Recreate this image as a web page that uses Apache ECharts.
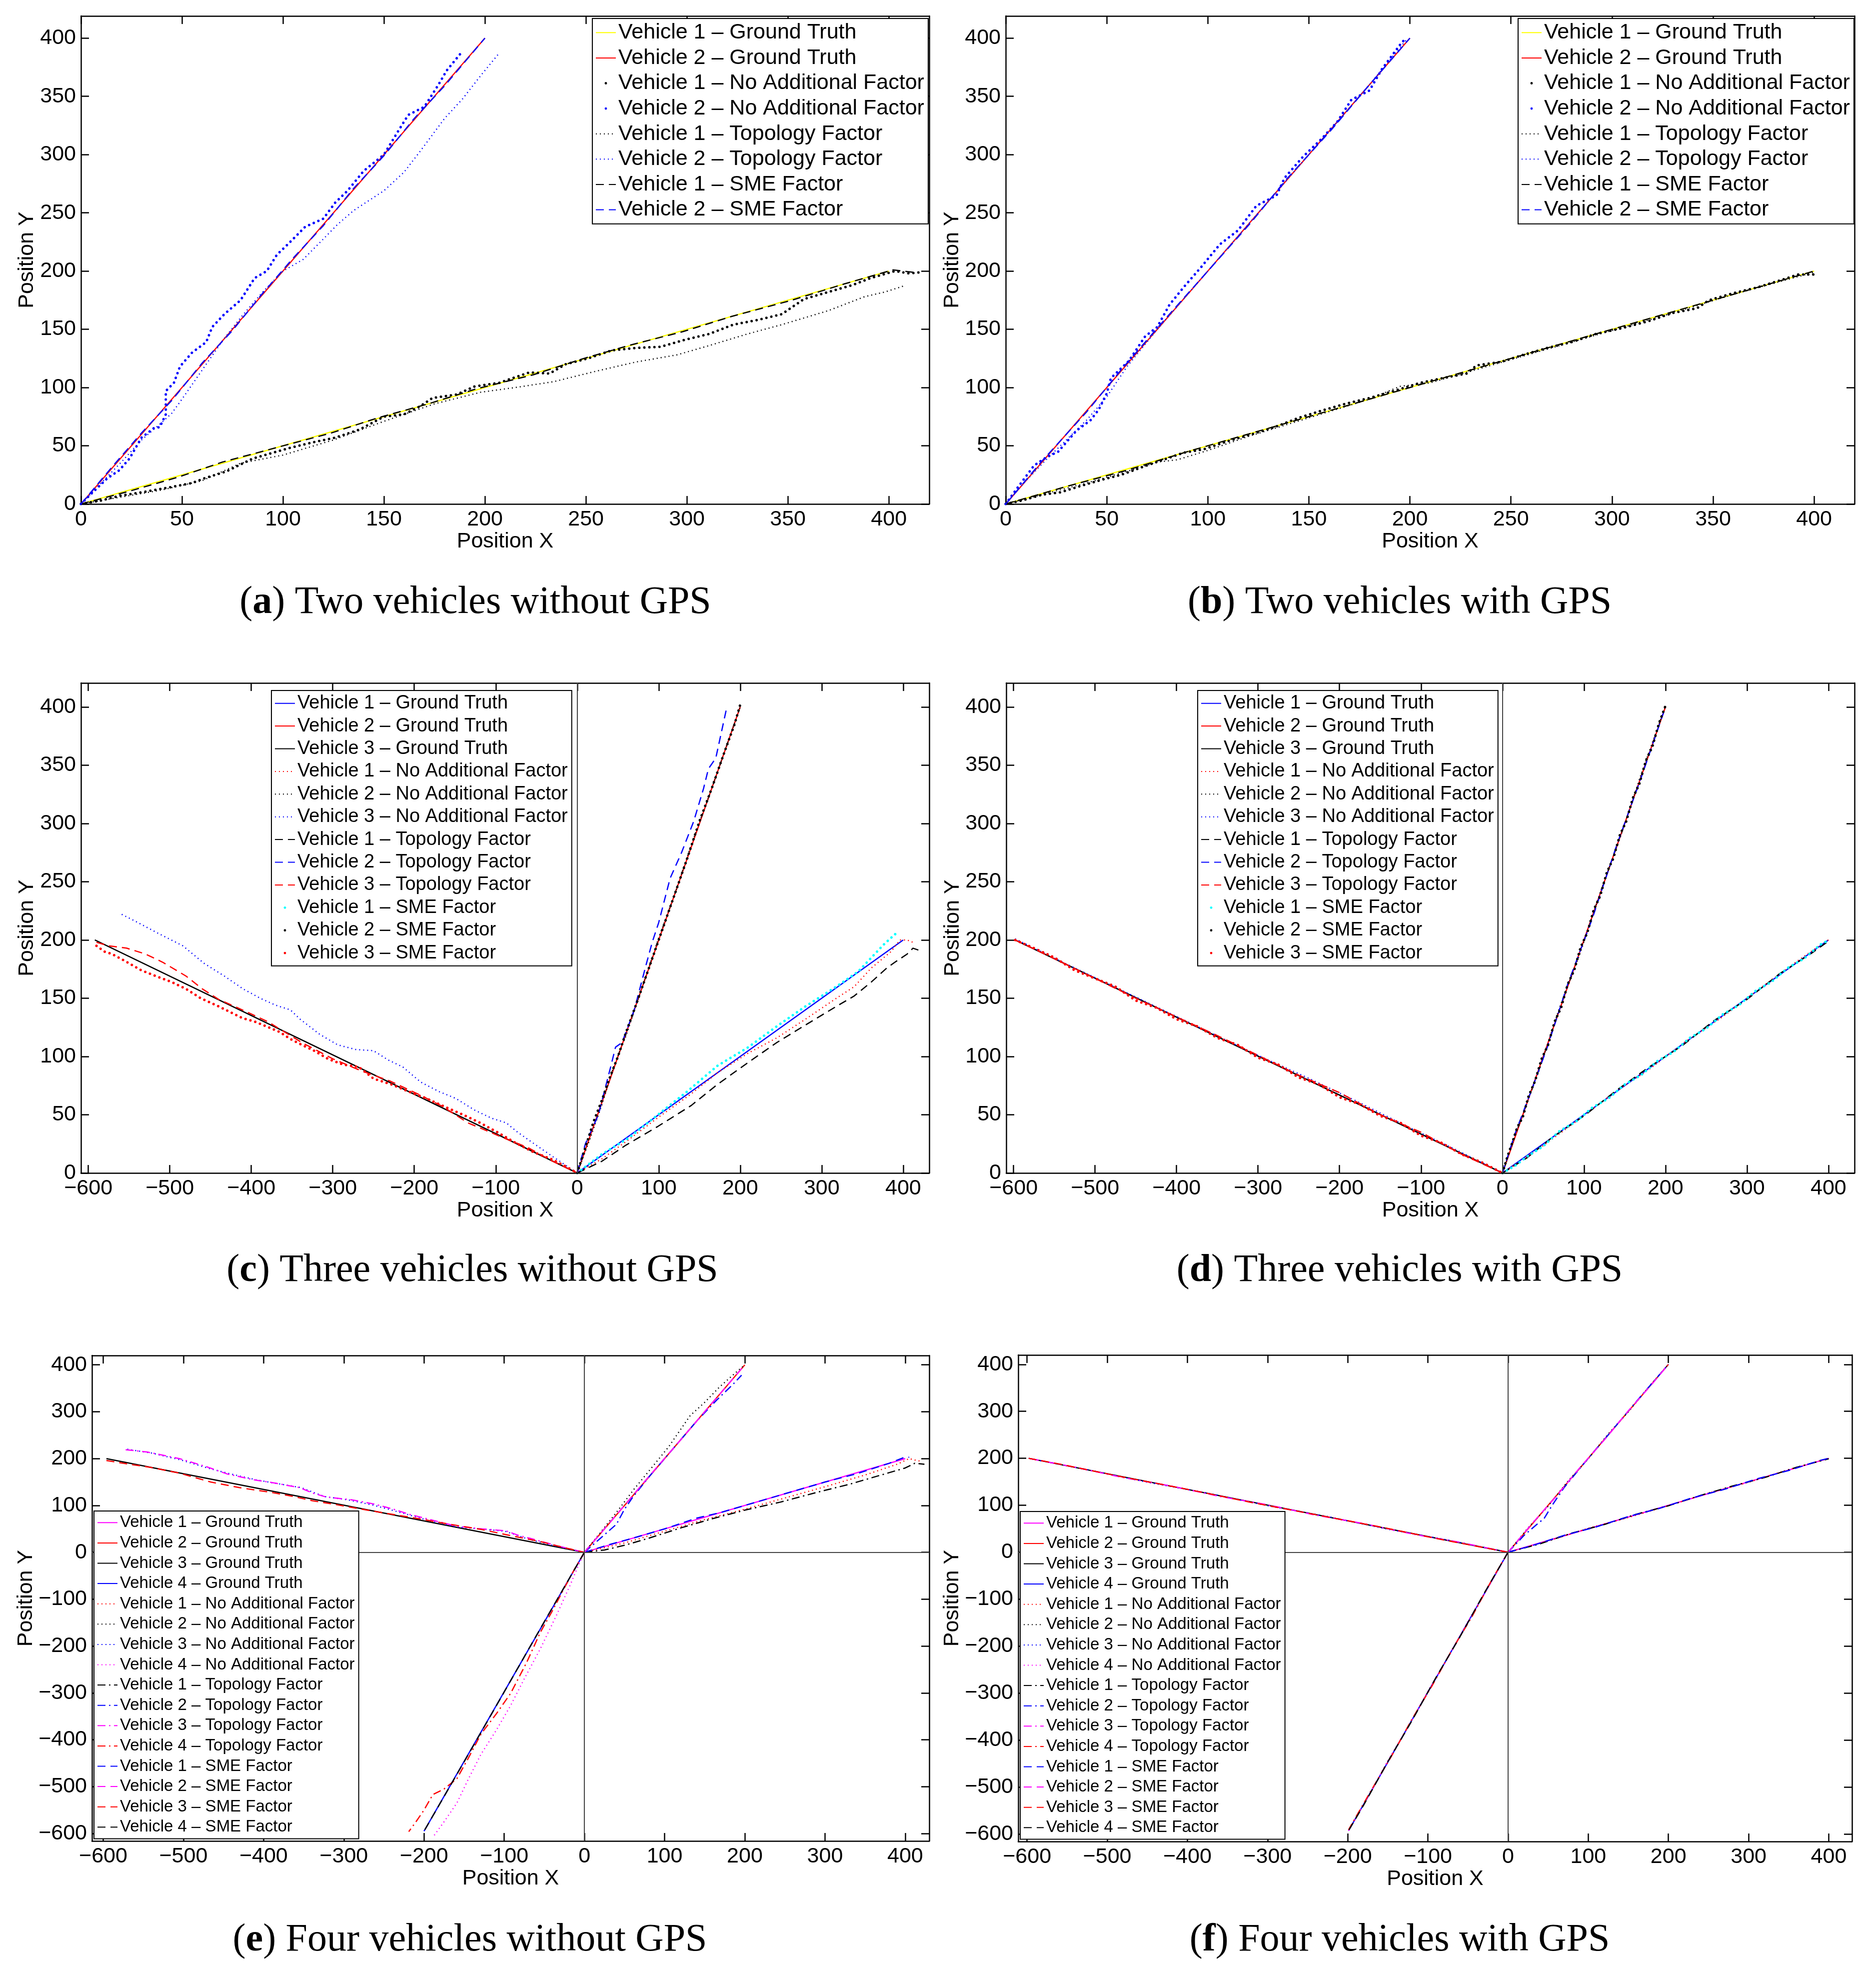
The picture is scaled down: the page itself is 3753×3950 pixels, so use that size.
<!DOCTYPE html>
<html><head><meta charset="utf-8">
<script src="https://cdn.jsdelivr.net/npm/echarts@6/dist/echarts.min.js"></script>
<style>html,body{margin:0;padding:0;background:#fff}#c{width:3753px;height:3950px}</style>
</head><body><div id="c"></div>
<script>
// ---------------- tick labels ----------------
const TICKS_0_400 = [0,50,100,150,200,250,300,350,400];
const TICKS_X_WIDE = [-600,-500,-400,-300,-200,-100,0,100,200,300,400];
const TICKS_Y_WIDE = [-600,-500,-400,-300,-200,-100,0,100,200,300,400];

// ---------------- panel (a): two vehicles without GPS ----------------
const A_V1_GT = [[0,0],[400,200]];
const A_V2_GT = [[0,0],[200,400]];
const A_V1_NOADD = [[0,0],[10,3],[19,7],[30,10],[43,14],[55,18],[61,22],[72,28],[85,39],[95,44],[103,48],[115,53],[126,57],[138,64],[150,75],[160,77],[168,84],[174,91],[186,94],[195,101],[207,104],[222,113],[232,112],[240,120],[251,125],[263,132],[275,134],[287,135],[299,141],[311,146],[323,154],[335,158],[347,163],[358,176],[370,182],[382,188],[391,194],[403,200],[410,198],[416,199]];
const A_V2_NOADD = [[0,0],[4,7],[7,12],[13,22],[19,29],[24,39],[30,57],[36,65],[39,66],[42,77],[42,97],[46,104],[49,118],[55,130],[62,139],[65,152],[71,163],[79,175],[86,194],[92,200],[97,214],[103,224],[111,238],[120,245],[126,259],[132,269],[140,286],[150,300],[157,320],[162,334],[170,341],[177,360],[181,372],[189,389]];
const A_V1_TOPO = [[0,0],[20,6],[40,12],[60,20],[79,35],[100,42],[125,55],[150,71],[175,86],[198,96],[215,100],[234,105],[255,114],[275,122],[295,128],[311,136],[330,146],[347,154],[370,166],[388,178],[398,182],[407,187]];
const A_V2_TOPO = [[0,0],[10,18],[20,36],[30,55],[40,70],[45,78],[50,90],[60,115],[70,140],[80,162],[90,182],[100,200],[110,210],[118,224],[127,240],[135,252],[150,269],[160,285],[168,303],[180,331],[189,348],[198,368],[207,387]];
const A_V1_SME = [[0,0],[24,11],[48,23],[70,36],[98,49],[124,61],[147,74],[172,86],[196,99],[224,111],[249,125],[271,136],[298,148],[322,161],[352,175],[378,189],[402,201],[412,199]];
const A_V2_SME = [[0,0],[15,31],[30,61],[45,89],[60,121],[75,149],[90,181],[105,211],[120,239],[135,271],[150,299],[165,331],[180,359],[200,400]];

// ---------------- panel (b): two vehicles with GPS ----------------
const B_V1_GT = [[0,0],[400,200]];
const B_V2_GT = [[0,0],[200,400]];
const B_V1_NOADD = [[0,0],[8,3],[18,8],[27,10],[38,16],[48,21],[57,25],[68,32],[78,38],[88,44],[98,47],[110,54],[122,60],[133,66],[145,74],[156,80],[168,86],[180,91],[192,97],[205,104],[216,108],[228,112],[233,119],[245,122],[256,128],[268,134],[280,139],[292,146],[305,151],[318,157],[330,164],[342,168],[348,175],[360,181],[372,186],[385,193],[392,197],[401,197]];
const B_V2_NOADD = [[0,0],[5,12],[14,33],[20,40],[26,45],[35,63],[42,72],[46,81],[50,95],[52,108],[61,123],[69,144],[75,152],[81,171],[88,186],[97,204],[106,223],[115,235],[124,256],[134,265],[138,280],[147,298],[156,313],[164,328],[171,347],[180,355],[186,373],[195,394],[198,400]];
const B_V1_TOPO = [[0,0],[20,9],[40,18],[60,28],[75,36],[85,38],[100,46],[120,58],[150,74],[180,90],[195,101],[210,104],[240,119],[270,134],[300,149],[330,164],[360,180],[400,199]];
const B_V2_TOPO = [[0,0],[10,20],[20,38],[30,55],[40,72],[50,92],[60,118],[75,150],[90,180],[105,210],[120,240],[135,270],[150,300],[165,330],[180,360],[198,398]];
const B_V1_SME = [[0,0],[30,15],[60,29],[90,45],[120,60],[150,75],[180,90],[210,105],[240,120],[270,135],[300,150],[330,165],[360,180],[400,200]];
const B_V2_SME = [[0,0],[18,37],[40,79],[58,117],[80,161],[99,198],[121,241],[139,279],[161,321],[179,358],[200,400]];

// ---------------- panel (c): three vehicles without GPS ----------------
const C_V1_GT = [[0,0],[400,200]];
const C_V2_GT = [[0,0],[200,400]];
const C_V3_GT = [[0,0],[-592,200]];
const C_V1_NOADD = [[0,0],[30,12],[60,27],[100,48],[140,68],[172,86],[210,103],[245,116],[280,132],[318,150],[340,160],[361,176],[385,190],[396,200],[405,200],[412,198]];
const C_V2_NOADD = [[0,0],[15,28],[30,58],[45,92],[60,118],[80,160],[100,202],[120,240],[140,282],[160,320],[180,360],[200,400]];
const C_V3_NOADD = [[-559,222],[-542,216],[-515,206],[-484,195],[-458,180],[-433,169],[-410,158],[-389,150],[-370,144],[-352,140],[-340,132],[-316,119],[-294,110],[-272,106],[-250,105],[-232,97],[-214,91],[-192,78],[-170,70],[-149,64],[-126,54],[-105,47],[-87,43],[-75,36],[-61,29],[-32,15],[0,0]];
const C_V1_TOPO = [[0,0],[30,10],[60,24],[99,40],[140,58],[172,76],[210,95],[245,112],[280,127],[318,143],[340,152],[361,164],[380,176],[390,181],[405,188],[412,193],[420,191]];
const C_V2_TOPO = [[0,0],[10,25],[26,50],[41,91],[47,108],[55,112],[70,140],[85,180],[92,198],[100,215],[114,253],[128,275],[143,302],[155,330],[161,347],[170,356],[183,398]];
const C_V3_TOPO = [[-590,198],[-575,195],[-553,193],[-530,188],[-509,181],[-480,169],[-460,158],[-440,149],[-411,140],[-380,130],[-338,112],[-300,98],[-266,88],[-230,79],[-193,67],[-165,57],[-134,43],[-110,36],[-90,30],[-61,22],[-30,10],[0,0]];
const C_V1_SME = [[0,0],[30,16],[63,30],[99,50],[135,70],[172,92],[210,108],[245,126],[280,143],[318,160],[345,173],[376,196],[390,205],[396,204]];
const C_V2_SME = [[0,0],[10,22],[20,44],[30,62],[40,82],[50,100],[60,121],[75,150],[90,180],[105,210],[120,240],[135,270],[150,302],[165,330],[180,360],[193,385],[200,402]];
const C_V3_SME = [[-590,195],[-580,190],[-571,188],[-555,182],[-535,174],[-517,169],[-498,164],[-480,158],[-462,150],[-440,143],[-411,133],[-396,130],[-382,126],[-365,121],[-352,115],[-338,110],[-323,105],[-306,98],[-287,93],[-268,91],[-250,81],[-228,76],[-207,70],[-185,64],[-163,57],[-140,50],[-119,43],[-98,35],[-76,26],[-54,18],[-32,12],[-15,6],[0,0]];

// ---------------- panel (d): three vehicles with GPS ----------------
const D_V1_GT = [[0,0],[400,200]];
const D_V2_GT = [[0,0],[200,400]];
const D_V3_GT = [[0,0],[-598,200]];
const D_V1_NOADD = [[0,0],[45,21],[90,44],[135,68],[180,89],[225,113],[270,134],[315,158],[360,181],[395,198],[400,200]];
const D_V2_NOADD = [[0,0],[20,41],[45,88],[70,142],[95,188],[120,241],[145,289],[170,342],[200,401]];
const D_V3_NOADD = [[0,0],[-60,21],[-120,41],[-180,62],[-240,82],[-300,101],[-360,121],[-420,141],[-480,161],[-540,181],[-598,201]];
const D_V1_TOPO = [[0,0],[30,13],[60,30],[100,49],[140,71],[180,91],[220,109],[260,131],[300,149],[340,171],[380,189],[400,199]];
const D_V2_TOPO = [[0,0],[15,33],[35,70],[55,108],[80,162],[110,218],[140,281],[170,339],[200,400]];
const D_V3_TOPO = [[0,0],[-50,16],[-100,35],[-150,50],[-200,69],[-250,84],[-300,101],[-350,118],[-400,134],[-450,150],[-500,167],[-550,184],[-598,200]];
const D_V1_SME = [[0,0],[15,6],[30,14],[50,23],[70,36],[90,44],[110,56],[130,64],[150,76],[170,84],[190,96],[210,104],[230,116],[250,124],[270,136],[290,144],[310,156],[330,164],[350,176],[370,184],[390,196],[398,199]];
const D_V2_SME = [[0,0],[6,14],[12,26],[18,39],[25,48],[32,66],[40,79],[48,98],[56,110],[64,130],[72,142],[80,162],[88,174],[96,194],[104,206],[112,226],[120,238],[128,258],[136,270],[144,290],[152,302],[160,322],[168,334],[176,354],[184,366],[192,386],[200,401]];
const D_V3_SME = [[-598,200],[-575,193],[-550,185],[-525,174],[-500,167],[-475,160],[-450,148],[-425,142],[-400,132],[-375,126],[-350,116],[-325,110],[-300,99],[-275,93],[-250,82],[-225,76],[-200,65],[-175,59],[-150,49],[-125,43],[-100,32],[-75,26],[-50,16],[-25,9],[0,0]];

// ---------------- panel (e): four vehicles without GPS ----------------
const E_V1_GT = [[0,0],[400,200]];
const E_V2_GT = [[0,0],[200,400]];
const E_V3_GT = [[0,0],[-596,200]];
const E_V4_GT = [[0,0],[-200,-595]];
const E_V1_NOADD = [[0,0],[50,20],[100,45],[150,70],[200,92],[250,116],[300,140],[350,165],[390,188],[405,200],[412,197],[420,194]];
const E_V2_NOADD = [[0,0],[20,42],[43,92],[62,135],[86,185],[105,225],[132,292],[150,320],[168,352],[185,378],[200,400]];
const E_V3_NOADD = [[-570,220],[-540,212],[-503,197],[-470,180],[-443,168],[-410,155],[-391,149],[-370,143],[-353,138],[-338,128],[-324,119],[-295,112],[-264,101],[-240,90],[-219,80],[-190,66],[-159,54],[-130,50],[-99,45],[-85,37],[-70,28],[-35,13],[0,0]];
const E_V4_NOADD = [[0,0],[-8,-30],[-17,-67],[-35,-135],[-55,-206],[-75,-270],[-92,-327],[-110,-380],[-129,-431],[-145,-485],[-159,-535],[-175,-575],[-189,-608]];
const E_V1_TOPO = [[0,0],[25,5],[50,15],[80,30],[120,52],[160,72],[200,90],[244,107],[290,128],[330,145],[370,165],[400,180],[412,190],[424,188]];
const E_V2_TOPO = [[0,0],[20,30],[40,60],[50,92],[60,117],[80,160],[110,220],[140,280],[165,325],[185,358],[196,378]];
const E_V3_TOPO = [[-572,219],[-545,214],[-505,200],[-470,182],[-445,167],[-410,154],[-390,149],[-355,138],[-338,126],[-322,118],[-290,112],[-262,103],[-238,92],[-218,81],[-188,68],[-160,56],[-128,50],[-98,46],[-82,36],[-68,30],[-34,14],[0,0]];
const E_V4_TOPO = [[0,0],[-12,-35],[-25,-76],[-40,-125],[-55,-171],[-72,-235],[-92,-301],[-110,-345],[-129,-388],[-145,-440],[-159,-483],[-175,-505],[-189,-517],[-200,-550],[-210,-575],[-219,-596]];
const E_V1_SME = [[0,0],[30,16],[60,30],[100,50],[140,73],[170,85],[210,105],[260,130],[300,150],[340,168],[380,190],[398,202],[405,203]];
const E_V2_SME = [[0,0],[40,80],[80,161],[120,240],[160,320],[200,400]];
const E_V3_SME = [[-596,196],[-575,190],[-540,181],[-505,169],[-466,150],[-430,138],[-391,128],[-365,120],[-339,110],[-310,102],[-294,97],[-250,84],[-204,71],[-165,59],[-129,49],[-90,35],[-55,23],[-25,10],[0,0]];
const E_V4_SME = [[0,0],[-50,-148],[-100,-298],[-150,-447],[-200,-595]];

// ---------------- panel (f): four vehicles with GPS ----------------
const F_V1_GT = [[0,0],[400,200]];
const F_V2_GT = [[0,0],[200,400]];
const F_V3_GT = [[0,0],[-598,200]];
const F_V4_GT = [[0,0],[-199,-593]];
const F_V1_NOADD = [[0,0],[50,24],[100,51],[150,74],[200,99],[250,126],[300,149],[350,176],[400,200]];
const F_V2_NOADD = [[0,0],[25,52],[50,98],[75,152],[100,199],[125,252],[150,299],[175,351],[200,400]];
const F_V3_NOADD = [[0,0],[-75,26],[-150,49],[-225,76],[-300,99],[-375,126],[-450,149],[-525,176],[-598,200]];
const F_V4_NOADD = [[0,0],[-25,-76],[-50,-147],[-75,-225],[-100,-296],[-125,-373],[-150,-444],[-175,-522],[-199,-593]];
const F_V1_TOPO = [[0,0],[40,18],[80,41],[120,59],[160,81],[200,99],[240,121],[280,141],[320,159],[360,181],[400,199]];
const F_V2_TOPO = [[0,0],[20,36],[35,58],[45,72],[55,100],[70,138],[100,200],[130,260],[160,321],[200,400]];
const F_V3_TOPO = [[0,0],[-60,21],[-120,39],[-180,61],[-240,79],[-300,101],[-360,119],[-420,141],[-480,159],[-540,181],[-598,200]];
const F_V4_TOPO = [[0,0],[-20,-58],[-45,-137],[-70,-208],[-95,-285],[-120,-356],[-145,-433],[-170,-505],[-199,-591]];
const F_V1_SME = [[0,0],[30,14],[70,36],[110,54],[150,76],[190,94],[230,116],[270,134],[310,156],[350,174],[390,196],[400,200]];
const F_V2_SME = [[0,0],[30,61],[60,119],[90,181],[120,239],[150,301],[180,359],[200,400]];
const F_V3_SME = [[0,0],[-80,26],[-160,54],[-240,80],[-320,106],[-400,134],[-480,160],[-560,188],[-598,200]];
const F_V4_SME = [[0,0],[-30,-88],[-60,-180],[-90,-267],[-120,-359],[-150,-446],[-180,-538],[-199,-593]];

// ---------------- styles ----------------
const FONT = 'Liberation Sans, Arial, sans-serif';
const SERIF = 'Liberation Serif, Times New Roman, serif';
const Y='#ffff00', R='#ff0000', B='#0000ff', K='#000000', C='#00ffff', M='#ff00ff';
const LS = {
  solid:   {type:'solid', width:2.5},
  dot:     {type:[2,6], width:2.5},
  dash:    {type:[16,10], width:2.5},
  dashdot: {type:[16,7,3,7], width:2.5},
  marks:   {type:[0.1,10], width:5, cap:'round'}
};
const GT='Ground Truth', NA='No Additional Factor', TF='Topology Factor', SF='SME Factor';
const nm = (v, f) => 'Vehicle ' + v + ' \u2013 ' + f;

const panels = [
  {key:'a', grid:{left:162, top:32, width:1697, height:976}, xr:[0,420], yr:[0,419], xt:TICKS_0_400, yt:TICKS_0_400, yGap:86,
   legend:{left:1185, top:37, font:43, row:50.6},
   cap:{x:951, y:1206, t:'({b|a}) Two vehicles without GPS'}, zx:false, zy:false,
   s:[[nm(1,GT),A_V1_GT,Y,'solid'],[nm(2,GT),A_V2_GT,R,'solid'],[nm(1,NA),A_V1_NOADD,K,'marks'],[nm(2,NA),A_V2_NOADD,B,'marks'],
      [nm(1,TF),A_V1_TOPO,K,'dot'],[nm(2,TF),A_V2_TOPO,B,'dot'],[nm(1,SF),A_V1_SME,K,'dash'],[nm(2,SF),A_V2_SME,B,'dash']]},
  {key:'b', grid:{left:2012, top:32, width:1698, height:976}, xr:[0,420], yr:[0,419], xt:TICKS_0_400, yt:TICKS_0_400, yGap:84,
   legend:{left:3037, top:37, font:43, row:50.6},
   cap:{x:2800, y:1206, t:'({b|b}) Two vehicles with GPS'}, zx:false, zy:false,
   s:[[nm(1,GT),B_V1_GT,Y,'solid'],[nm(2,GT),B_V2_GT,R,'solid'],[nm(1,NA),B_V1_NOADD,K,'marks'],[nm(2,NA),B_V2_NOADD,B,'marks'],
      [nm(1,TF),B_V1_TOPO,K,'dot'],[nm(2,TF),B_V2_TOPO,B,'dot'],[nm(1,SF),B_V1_SME,K,'dash'],[nm(2,SF),B_V2_SME,B,'dash']]},
  {key:'c', grid:{left:162, top:1366, width:1697, height:980}, xr:[-609,432], yr:[0,420.6], xt:TICKS_X_WIDE, yt:TICKS_0_400, yGap:86,
   legend:{left:543, top:1381, font:38, row:45.4},
   cap:{x:945, y:2542, t:'({b|c}) Three vehicles without GPS'}, zx:true, zy:false,
   s:[[nm(1,GT),C_V1_GT,B,'solid'],[nm(2,GT),C_V2_GT,R,'solid'],[nm(3,GT),C_V3_GT,K,'solid'],
      [nm(1,NA),C_V1_NOADD,R,'dot'],[nm(2,NA),C_V2_NOADD,K,'dot'],[nm(3,NA),C_V3_NOADD,B,'dot'],
      [nm(1,TF),C_V1_TOPO,K,'dash'],[nm(2,TF),C_V2_TOPO,B,'dash'],[nm(3,TF),C_V3_TOPO,R,'dash'],
      [nm(1,SF),C_V1_SME,C,'marks'],[nm(2,SF),C_V2_SME,K,'marks'],[nm(3,SF),C_V3_SME,R,'marks']]},
  {key:'d', grid:{left:2013, top:1366, width:1697, height:980}, xr:[-609,432], yr:[0,420.6], xt:TICKS_X_WIDE, yt:TICKS_0_400, yGap:84,
   legend:{left:2396, top:1381, font:38, row:45.4},
   cap:{x:2800, y:2542, t:'({b|d}) Three vehicles with GPS'}, zx:true, zy:false,
   s:[[nm(1,GT),D_V1_GT,B,'solid'],[nm(2,GT),D_V2_GT,R,'solid'],[nm(3,GT),D_V3_GT,K,'solid'],
      [nm(1,NA),D_V1_NOADD,R,'dot'],[nm(2,NA),D_V2_NOADD,K,'dot'],[nm(3,NA),D_V3_NOADD,B,'dot'],
      [nm(1,TF),D_V1_TOPO,K,'dash'],[nm(2,TF),D_V2_TOPO,B,'dash'],[nm(3,TF),D_V3_TOPO,R,'dash'],
      [nm(1,SF),D_V1_SME,C,'marks'],[nm(2,SF),D_V2_SME,K,'marks'],[nm(3,SF),D_V3_SME,R,'marks']]},
  {key:'e', grid:{left:184, top:2711, width:1675, height:971}, xr:[-614,430], yr:[-616,420], xt:TICKS_X_WIDE, yt:TICKS_Y_WIDE, yGap:108,
   legend:{left:188, top:3022, font:33, row:40.6},
   cap:{x:940, y:3881, t:'({b|e}) Four vehicles without GPS'}, zx:true, zy:true,
   s:[[nm(1,GT),E_V1_GT,M,'solid'],[nm(2,GT),E_V2_GT,R,'solid'],[nm(3,GT),E_V3_GT,K,'solid'],[nm(4,GT),E_V4_GT,B,'solid'],
      [nm(1,NA),E_V1_NOADD,R,'dot'],[nm(2,NA),E_V2_NOADD,K,'dot'],[nm(3,NA),E_V3_NOADD,B,'dot'],[nm(4,NA),E_V4_NOADD,M,'dot'],
      [nm(1,TF),E_V1_TOPO,K,'dashdot'],[nm(2,TF),E_V2_TOPO,B,'dashdot'],[nm(3,TF),E_V3_TOPO,M,'dashdot'],[nm(4,TF),E_V4_TOPO,R,'dashdot'],
      [nm(1,SF),E_V1_SME,B,'dash'],[nm(2,SF),E_V2_SME,M,'dash'],[nm(3,SF),E_V3_SME,R,'dash'],[nm(4,SF),E_V4_SME,K,'dash']]},
  {key:'f', grid:{left:2037, top:2710, width:1668, height:973}, xr:[-611,429], yr:[-616,420], xt:TICKS_X_WIDE, yt:TICKS_Y_WIDE, yGap:110,
   legend:{left:2041, top:3023, font:33, row:40.6},
   cap:{x:2800, y:3881, t:'({b|f}) Four vehicles with GPS'}, zx:true, zy:true,
   s:[[nm(1,GT),F_V1_GT,M,'solid'],[nm(2,GT),F_V2_GT,R,'solid'],[nm(3,GT),F_V3_GT,K,'solid'],[nm(4,GT),F_V4_GT,B,'solid'],
      [nm(1,NA),F_V1_NOADD,R,'dot'],[nm(2,NA),F_V2_NOADD,K,'dot'],[nm(3,NA),F_V3_NOADD,B,'dot'],[nm(4,NA),F_V4_NOADD,M,'dot'],
      [nm(1,TF),F_V1_TOPO,K,'dashdot'],[nm(2,TF),F_V2_TOPO,B,'dashdot'],[nm(3,TF),F_V3_TOPO,M,'dashdot'],[nm(4,TF),F_V4_TOPO,R,'dashdot'],
      [nm(1,SF),F_V1_SME,B,'dash'],[nm(2,SF),F_V2_SME,M,'dash'],[nm(3,SF),F_V3_SME,R,'dash'],[nm(4,SF),F_V4_SME,K,'dash']]}
];

const fmt = v => (v < 0 ? '\u2212' + Math.abs(v) : String(v));

const grids = [], xAxes = [], yAxes = [], series = [], legends = [], graphics = [];
panels.forEach((P, i) => {
  grids.push(Object.assign({show:false, containLabel:false, outerBoundsMode:'none'}, P.grid));
  const ax = (pos, range, ticks, main) => ({
    gridIndex:i, type:'value', position:pos, min:range[0], max:range[1],
    axisLine:{show:true, onZero:false, lineStyle:{color:'#000', width:2.5}},
    axisTick:{show:true, inside:true, length:16, customValues:ticks, lineStyle:{color:'#000', width:2.5}},
    axisLabel:{show:main, customValues:ticks, formatter:fmt, fontSize:43, fontFamily:FONT, color:'#000', margin:10},
    splitLine:{show:false}
  });
  const xb = ax('bottom', P.xr, P.xt, true);
  Object.assign(xb, {name:'Position X', nameLocation:'middle', nameGap:46,
    nameTextStyle:{fontSize:43, fontFamily:FONT, color:'#000'}});
  const yl = ax('left', P.yr, P.yt, true);
  Object.assign(yl, {name:'Position Y', nameLocation:'middle', nameGap:P.yGap, nameRotate:90,
    nameTextStyle:{fontSize:43, fontFamily:FONT, color:'#000'}});
  xAxes.push(xb, ax('top', P.xr, P.xt, false));
  yAxes.push(yl, ax('right', P.yr, P.yt, false));

  const legendData = [];
  P.s.forEach((s, k) => {
    const [label, data, color, style] = s;
    const full = P.key + '|' + label;
    const ser = {
      type:'line', name:full, xAxisIndex:2*i, yAxisIndex:2*i, data:data,
      symbol:'none', showSymbol:false, silent:true, animation:false, clip:true,
      color:color, itemStyle:{color:color},
      lineStyle:Object.assign({color:color}, LS[style]), z:2 + k*0.01
    };
    if (k === 0 && (P.zx || P.zy)) {
      const md = [];
      if (P.zx) md.push({xAxis:0});
      if (P.zy) md.push({yAxis:0});
      ser.markLine = {silent:true, symbol:['none','none'], label:{show:false},
        lineStyle:{color:'#444', width:2, type:'solid'}, data:md, animation:false};
    }
    series.push(ser);
    legendData.push(style === 'marks'
      ? {name:full, lineStyle:{opacity:0}}
      : {name:full, itemStyle:{opacity:0}});
  });
  legends.push({
    orient:'vertical', left:P.legend.left, top:P.legend.top,
    itemWidth:40, itemHeight:6, itemGap:0, padding:[3,8,3,6],
    backgroundColor:'#fff', borderColor:'#000', borderWidth:2, borderRadius:0,
    selectedMode:false, z:10,
    textStyle:{fontSize:P.legend.font, fontFamily:FONT, color:'#000', lineHeight:P.legend.row},
    formatter: n => n.slice(2),
    data:legendData
  });
  graphics.push({type:'text', x:P.cap.x, y:P.cap.y, silent:true,
    style:{text:P.cap.t, fontSize:78, fontFamily:SERIF, fill:'#000', align:'center', verticalAlign:'middle',
      rich:{b:{fontSize:78, fontFamily:SERIF, fontWeight:'bold', fill:'#000'}}}});
});

const chart = echarts.init(document.getElementById('c'), null, {renderer:'canvas'});
chart.setOption({
  animation:false, backgroundColor:'#fff',
  grid:grids, xAxis:xAxes, yAxis:yAxes, series:series, legend:legends, graphic:graphics
});
</script></body></html>
